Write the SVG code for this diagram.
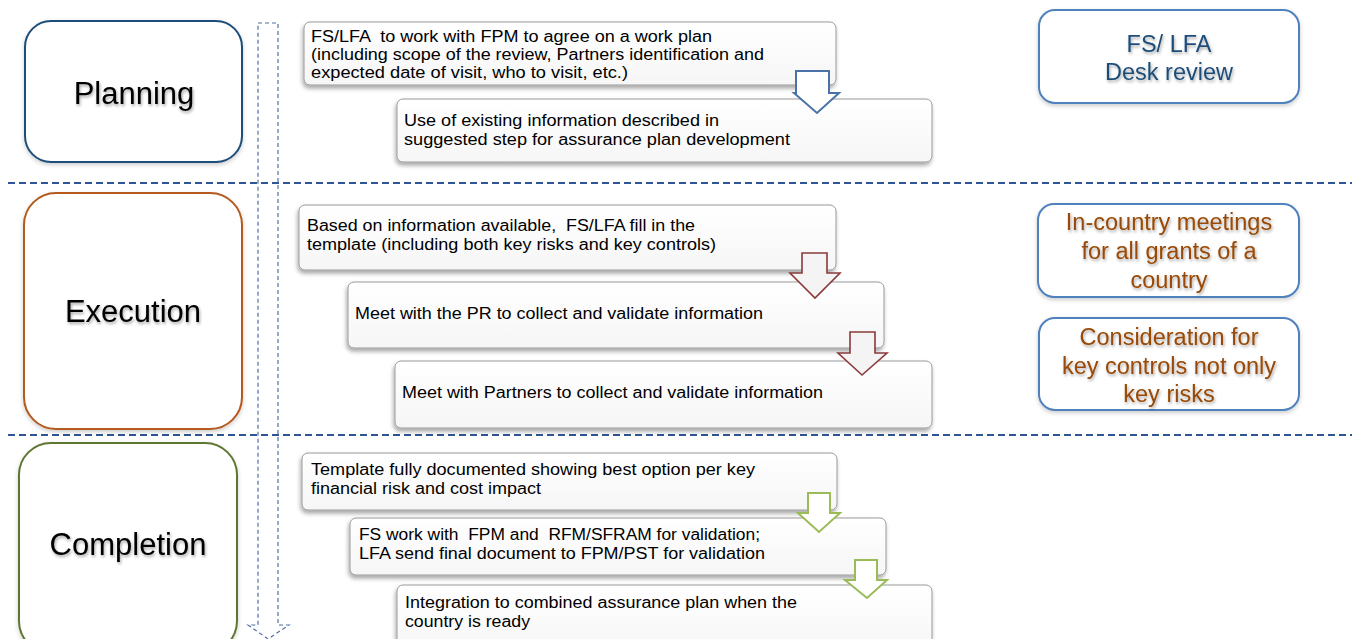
<svg xmlns="http://www.w3.org/2000/svg" width="1352" height="639" viewBox="0 0 1352 639">
<defs>
<filter id="sh" x="-10%" y="-10%" width="120%" height="130%">
<feDropShadow dx="-1" dy="3" stdDeviation="2" flood-color="#000" flood-opacity="0.35"/>
</filter>
<filter id="tsh" x="-10%" y="-20%" width="120%" height="160%">
<feDropShadow dx="1" dy="2" stdDeviation="1.5" flood-color="#000" flood-opacity="0.35"/>
</filter>
<filter id="psh" x="-10%" y="-10%" width="120%" height="120%">
<feDropShadow dx="0" dy="2" stdDeviation="2" flood-color="#000" flood-opacity="0.2"/>
</filter>
<linearGradient id="bg" x1="0" y1="0" x2="0" y2="1">
<stop offset="0" stop-color="#ffffff"/>
<stop offset="1" stop-color="#f6f6f6"/>
</linearGradient>
<style>
.phase{fill:#fff;stroke-width:2;filter:url(#psh)}
.ptxt{font-family:"Liberation Sans",Arial,sans-serif;font-size:31px;fill:#000;text-anchor:middle;filter:url(#tsh)}
.step{fill:url(#bg);stroke:#9a9a9a;stroke-width:1;filter:url(#sh)}
.stxt{font-family:"Liberation Sans",Arial,sans-serif;font-size:16px;fill:#000;white-space:pre}
.side{fill:#fff;stroke:#4f81bd;stroke-width:2;filter:url(#psh)}
.sidetxt{font-family:"Liberation Sans",Arial,sans-serif;font-size:23.5px;text-anchor:middle;filter:url(#tsh)}
.sep{stroke:#2f5597;stroke-width:2;stroke-dasharray:7,4;fill:none}
.flow{fill:none;stroke:#4f6fa8;stroke-width:1.2;stroke-dasharray:4,3}
</style>
</defs>

<g id="separators">
<line class="sep" x1="8" y1="183" x2="1352" y2="183"/>
<line class="sep" x1="8" y1="435" x2="1352" y2="435"/>
</g>

<g id="timeline">
<path class="flow" d="M258,23 H278 V625 H289 L268,639 L248,625 H258 Z"/>
</g>

<g id="planning">
<rect class="phase" x="25" y="21" width="217" height="141" rx="26" stroke="#1f4e79"/>
<text class="ptxt" x="134" y="104">Planning</text>
</g>
<g id="execution">
<rect class="phase" x="24" y="193" width="218" height="236" rx="32" stroke="#b35a1f"/>
<text class="ptxt" x="133" y="322">Execution</text>
</g>
<g id="completion">
<rect class="phase" x="19" y="443" width="218" height="210" rx="32" stroke="#5e7530"/>
<text class="ptxt" x="128" y="555">Completion</text>
</g>

<g id="step-p1">
<rect class="step" x="304" y="22" width="532" height="63" rx="6"/>
<text class="stxt" x="311" y="42" textLength="401" lengthAdjust="spacingAndGlyphs">FS/LFA  to work with FPM to agree on a work plan</text>
<text class="stxt" x="311" y="60" textLength="453" lengthAdjust="spacingAndGlyphs">(including scope of the review, Partners identification and</text>
<text class="stxt" x="311" y="78" textLength="317" lengthAdjust="spacingAndGlyphs">expected date of visit, who to visit, etc.)</text>
</g>
<g id="step-p2">
<rect class="step" x="397" y="99" width="535" height="63" rx="6"/>
<text class="stxt" x="404" y="126" textLength="315" lengthAdjust="spacingAndGlyphs">Use of existing information described in</text>
<text class="stxt" x="404" y="145" textLength="386" lengthAdjust="spacingAndGlyphs">suggested step for assurance plan development</text>
</g>

<g id="step-e1">
<rect class="step" x="299" y="205" width="537" height="65" rx="6"/>
<text class="stxt" x="307" y="231" textLength="388" lengthAdjust="spacingAndGlyphs">Based on information available,  FS/LFA fill in the</text>
<text class="stxt" x="307" y="250" textLength="409" lengthAdjust="spacingAndGlyphs">template (including both key risks and key controls)</text>
</g>
<g id="step-e2">
<rect class="step" x="348" y="282" width="536" height="66" rx="6"/>
<text class="stxt" x="355" y="319" textLength="408" lengthAdjust="spacingAndGlyphs">Meet with the PR to collect and validate information</text>
</g>
<g id="step-e3">
<rect class="step" x="395" y="361" width="537" height="67" rx="6"/>
<text class="stxt" x="402" y="398" textLength="421" lengthAdjust="spacingAndGlyphs">Meet with Partners to collect and validate information</text>
</g>

<g id="step-c1">
<rect class="step" x="302" y="453" width="535" height="57" rx="6"/>
<text class="stxt" x="311" y="475" textLength="444" lengthAdjust="spacingAndGlyphs">Template fully documented showing best option per key</text>
<text class="stxt" x="311" y="494" textLength="230" lengthAdjust="spacingAndGlyphs">financial risk and cost impact</text>
</g>
<g id="step-c2">
<rect class="step" x="350" y="518" width="536" height="57" rx="6"/>
<text class="stxt" x="359" y="540" textLength="401" lengthAdjust="spacingAndGlyphs">FS work with  FPM and  RFM/SFRAM for validation;</text>
<text class="stxt" x="359" y="559" textLength="406" lengthAdjust="spacingAndGlyphs">LFA send final document to FPM/PST for validation</text>
</g>
<g id="step-c3">
<rect class="step" x="397" y="585" width="535" height="70" rx="6"/>
<text class="stxt" x="405" y="608" textLength="392" lengthAdjust="spacingAndGlyphs">Integration to combined assurance plan when the</text>
<text class="stxt" x="405" y="627" textLength="125" lengthAdjust="spacingAndGlyphs">country is ready</text>
</g>

<g id="connectors">
<path d="M796,71 H829 V93 H839 L817,113 L794,93 H796 Z" fill="#fff" stroke="#4a72a8" stroke-width="2"/>
<path d="M802,253 H827 V273 H840 L815,298 L790,273 H802 Z" fill="#f4f4f4" stroke="#8b3a3a" stroke-width="1.6"/>
<path d="M850,332 H875 V353 H887 L862,375 L838,353 H850 Z" fill="#f4f4f4" stroke="#8b3a3a" stroke-width="1.6"/>
<path d="M808,493 H830 V513 H840 L819,532 L798,513 H808 Z" fill="#fff" stroke="#9bbb59" stroke-width="2"/>
<path d="M855,560 H877 V580 H887 L867,598 L845,580 H855 Z" fill="#fff" stroke="#9bbb59" stroke-width="2"/>
</g>

<g id="side-desk">
<rect class="side" x="1039" y="10" width="260" height="93" rx="16"/>
<text class="sidetxt" x="1169" y="52" fill="#1f4e79">FS/ LFA</text>
<text class="sidetxt" x="1169" y="80" fill="#1f4e79">Desk review</text>
</g>
<g id="side-incountry">
<rect class="side" x="1038" y="204" width="261" height="93" rx="16"/>
<text class="sidetxt" x="1169" y="230" fill="#984807">In-country meetings</text>
<text class="sidetxt" x="1169" y="259" fill="#984807">for all grants of a</text>
<text class="sidetxt" x="1169" y="288" fill="#984807">country</text>
</g>
<g id="side-consideration">
<rect class="side" x="1039" y="318" width="260" height="92" rx="16"/>
<text class="sidetxt" x="1169" y="345" fill="#984807">Consideration for</text>
<text class="sidetxt" x="1169" y="374" fill="#984807">key controls not only</text>
<text class="sidetxt" x="1169" y="402" fill="#984807">key risks</text>
</g>
</svg>
